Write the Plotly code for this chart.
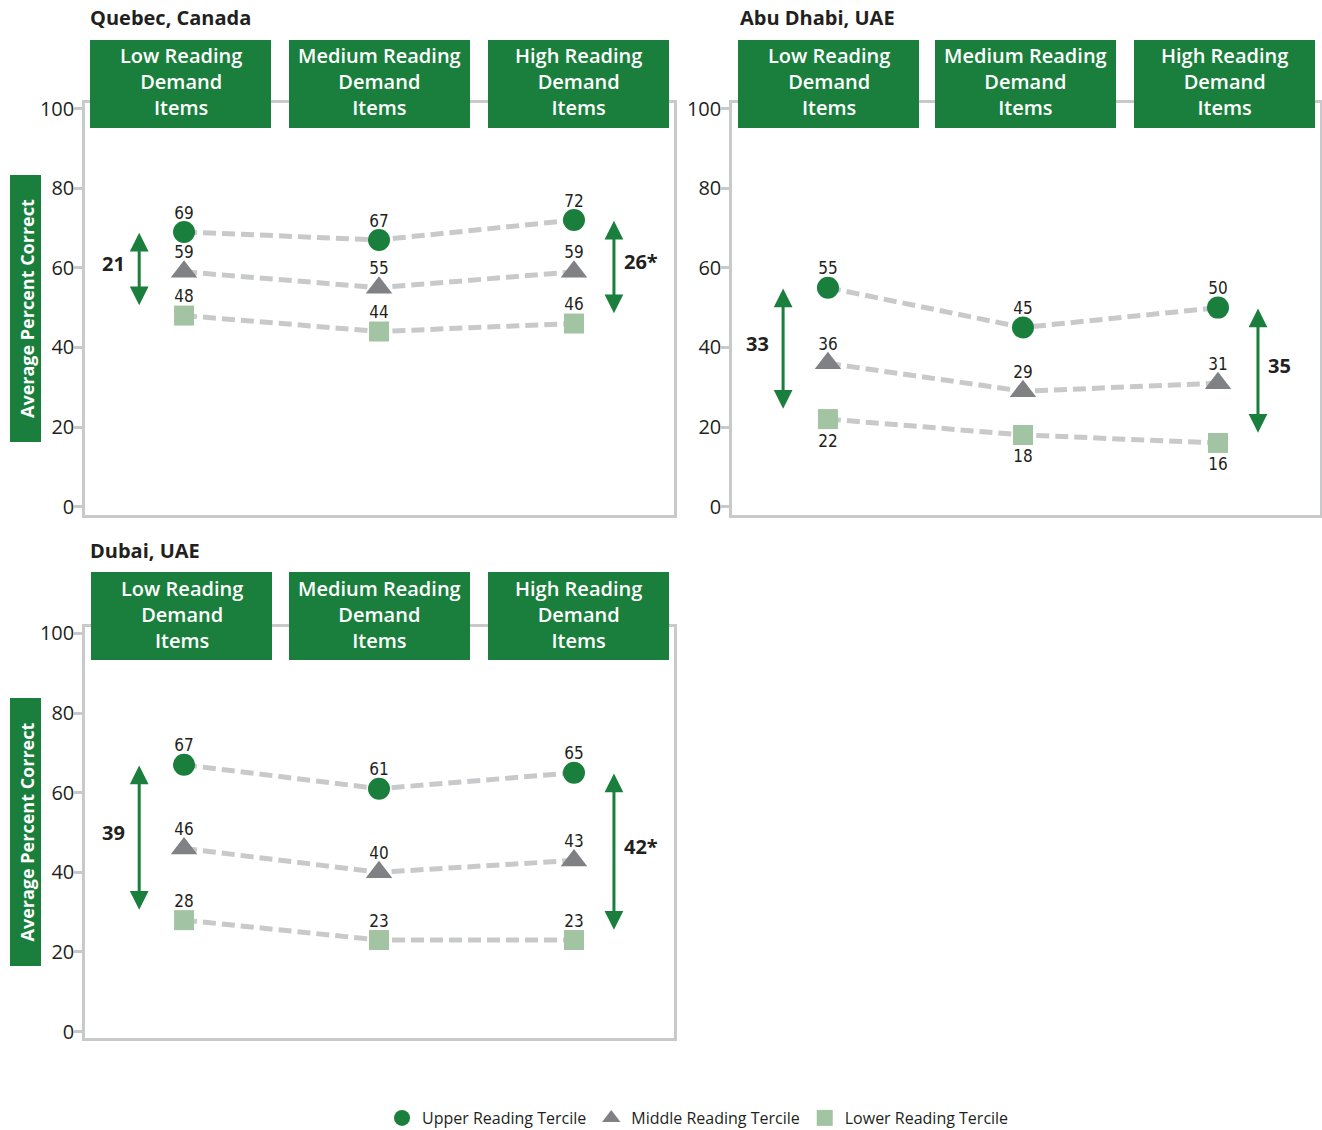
import plotly.graph_objects as go

W, H = 1322, 1130

# ---------------- data ----------------
categories = ["Low Reading Demand Items", "Medium Reading Demand Items", "High Reading Demand Items"]
header_labels = ["Low Reading<br>Demand<br>Items", "Medium Reading<br>Demand<br>Items", "High Reading<br>Demand<br>Items"]
series_names = ["Upper Reading Tercile", "Middle Reading Tercile", "Lower Reading Tercile"]
y_ticks = [0, 20, 40, 60, 80, 100]

quebec_upper = [69, 67, 72]
quebec_middle = [59, 55, 59]
quebec_lower = [48, 44, 46]
quebec_gaps = ["21", "26*"]

abu_upper = [55, 45, 50]
abu_middle = [36, 29, 31]
abu_lower = [22, 18, 16]
abu_gaps = ["33", "35"]

dubai_upper = [67, 61, 65]
dubai_middle = [46, 40, 43]
dubai_lower = [28, 23, 23]
dubai_gaps = ["39", "42*"]

# ---------------- style ----------------
GREEN = "#1a7f3c"
GRAY = "#808184"
LIGHT = "#a3c4a3"
LINE = "#c8c9cb"
AXIS = "#c8c9cb"
TXT = "#231f20"
FONT = "Open Sans, Noto Sans, sans-serif"
COND = "Liberation Sans Narrow, DejaVu Sans Condensed, Open Sans, sans-serif"


def px_x(p):
    return p / W


def px_y(p):
    return 1 - p / H


panels = [
    dict(name="Quebec, Canada", ax="", data=(quebec_upper, quebec_middle, quebec_lower), gaps=quebec_gaps,
         xdom=(85, 674), ydom=(103, 515), yrange=(-2.1, 101.4), xrange=(-0.508, 2.513),
         boxes=[(90, 271), (289, 470), (488, 669)], boxy=(40, 128), title=(89, 18),
         ytitle=(10, 41, 175, 442), lower_pos="top center"),
    dict(name="Abu Dhabi, UAE", ax="2", data=(abu_upper, abu_middle, abu_lower), gaps=abu_gaps,
         xdom=(732, 1320), ydom=(103, 515), yrange=(-2.1, 101.4), xrange=(-0.492, 2.523),
         boxes=[(738, 919), (935, 1116), (1134, 1315)], boxy=(40, 128), title=(739, 18),
         ytitle=None, lower_pos="bottom center"),
    dict(name="Dubai, UAE", ax="3", data=(dubai_upper, dubai_middle, dubai_lower), gaps=dubai_gaps,
         xdom=(85, 674), ydom=(627, 1038), yrange=(-1.6, 101.6), xrange=(-0.508, 2.513),
         boxes=[(91, 272), (289, 470), (488, 669)], boxy=(572, 660), title=(89, 550),
         ytitle=(10, 41, 698, 966), lower_pos="top center"),
]

symbols = ["circle", "triangle-up", "square"]
colors = [GREEN, GRAY, LIGHT]
sizes = [22, 23, 20]

fig = go.Figure()
shapes = []
annotations = []
text_traces = []

for p in panels:
    xr, yr = "x" + p["ax"], "y" + p["ax"]
    for i in range(3):
        vals = p["data"][i]
        pos = p["lower_pos"] if i == 2 else "top center"
        fig.add_trace(go.Scatter(
            x=categories, y=vals, xaxis=xr, yaxis=yr, mode="lines+markers",
            line=dict(color=LINE, width=5, dash="13px,6px"),
            marker=dict(symbol=symbols[i], size=sizes[i], color=colors[i], line=dict(width=0)),
            showlegend=False, hoverinfo="skip", cliponaxis=False,
        ))
        # value labels (an invisible marker sets the label offset)
        text_traces.append(go.Scatter(
            x=categories, y=vals, xaxis=xr, yaxis=yr, mode="markers+text",
            text=[str(v) for v in vals], textposition=pos,
            textfont=dict(family=COND, size=17, color=TXT),
            marker=dict(size=22 if pos.startswith("bottom") else 13, opacity=0),
            showlegend=False, hoverinfo="skip", cliponaxis=False,
        ))

    xkey = "xaxis" + p["ax"]
    ykey = "yaxis" + p["ax"]
    fig.layout[xkey] = dict(domain=[px_x(p["xdom"][0]), px_x(p["xdom"][1])], anchor=yr,
                            range=list(p["xrange"]), showline=True, mirror=True, linecolor=AXIS,
                            linewidth=2.5, showgrid=False, zeroline=False, showticklabels=False,
                            ticks="", type="category", fixedrange=True)
    fig.layout[ykey] = dict(domain=[px_y(p["ydom"][1]), px_y(p["ydom"][0])], anchor=xr,
                            range=list(p["yrange"]), tickvals=y_ticks, ticks="outside", ticklen=8,
                            tickwidth=2.5, tickcolor=AXIS, showline=True, mirror=True,
                            linecolor=AXIS, linewidth=2.5, showgrid=False, zeroline=False,
                            ticklabelstandoff=-4,
                            tickfont=dict(family=FONT, size=20, color=TXT), fixedrange=True)

    # header boxes
    for (bx0, bx1), lab in zip(p["boxes"], header_labels):
        shapes.append(dict(type="rect", xref="paper", yref="paper", x0=px_x(bx0), x1=px_x(bx1),
                           y0=px_y(p["boxy"][1]), y1=px_y(p["boxy"][0]), fillcolor=GREEN,
                           line=dict(width=0), layer="above"))
        annotations.append(dict(xref="paper", yref="paper", x=px_x((bx0 + bx1) / 2),
                                y=px_y((p["boxy"][0] + p["boxy"][1]) / 2 - 2), text=lab, showarrow=False,
                                xanchor="center", yanchor="middle", align="center",
                                font=dict(family=FONT, size=20, color="white", weight=600)))

    # panel title
    annotations.append(dict(xref="paper", yref="paper", x=px_x(p["title"][0] - 1), y=px_y(p["title"][1]),
                            text="<b>" + p["name"] + "</b>", showarrow=False, xanchor="left",
                            yanchor="middle", font=dict(family=FONT, size=20, color=TXT)))

    # y axis title
    if p["ytitle"]:
        x0, x1, y0, y1 = p["ytitle"]
        shapes.append(dict(type="rect", xref="paper", yref="paper", x0=px_x(x0), x1=px_x(x1),
                           y0=px_y(y1), y1=px_y(y0), fillcolor=GREEN, line=dict(width=0)))
        annotations.append(dict(xref="paper", yref="paper", x=px_x((x0 + x1) / 2 + 1), y=px_y((y0 + y1) / 2),
                                text="<b>Average Percent Correct</b>", textangle=-90, showarrow=False,
                                xanchor="center", yanchor="middle",
                                font=dict(family=FONT, size=18, color="white")))

    # gap arrows between upper and lower terciles (left: first category, right: last category)
    up, lo = p["data"][0], p["data"][2]
    for side, idx, xa, lab in [("left", 0, -0.23, p["gaps"][0]), ("right", 2, 2.205, p["gaps"][1])]:
        top, bot = up[idx] + 1, lo[idx] + 1
        annotations.append(dict(x=xa, y=top - 1.2, ax=xa, ay=bot + 1.2, xref=xr, yref=yr, axref=xr, ayref=yr,
                                text="", showarrow=True, arrowhead=2, startarrowhead=2,
                                arrowside="end+start", arrowwidth=3, arrowsize=1.25, startarrowsize=1.25,
                                arrowcolor=GREEN, standoff=0, startstandoff=0))
        mid = (top + bot) / 2 + 1.5
        annotations.append(dict(x=xa, y=mid, xref=xr, yref=yr, text="<b>" + lab + "</b>", showarrow=False,
                                xanchor="right" if side == "left" else "left", yanchor="middle",
                                xshift=-12 if side == "left" else 8,
                                font=dict(family=FONT, size=20, color=TXT)))

for t in text_traces:
    fig.add_trace(t)

# legend entries
for name, sym, col, sz in zip(series_names, symbols, colors, sizes):
    fig.add_trace(go.Scatter(x=[None], y=[None], mode="markers", name=name,
                             marker=dict(symbol=sym, size=sz, color=col), showlegend=True,
                             xaxis="x", yaxis="y"))

fig.update_layout(
    width=W, height=H, margin=dict(l=0, r=0, t=0, b=0, autoexpand=False),
    paper_bgcolor="white", plot_bgcolor="white",
    shapes=shapes, annotations=annotations,
    legend=dict(orientation="h", x=0.528, xanchor="center", y=px_y(1118), yanchor="middle",
                font=dict(family=FONT, size=16, color=TXT), itemsizing="trace",
                bgcolor="rgba(0,0,0,0)", tracegroupgap=0, itemwidth=30),
    font=dict(family=FONT, color=TXT),
)

fig.write_html("out.html", config={"displayModeBar": False},
               post_script="document.body.style.margin='0';")
